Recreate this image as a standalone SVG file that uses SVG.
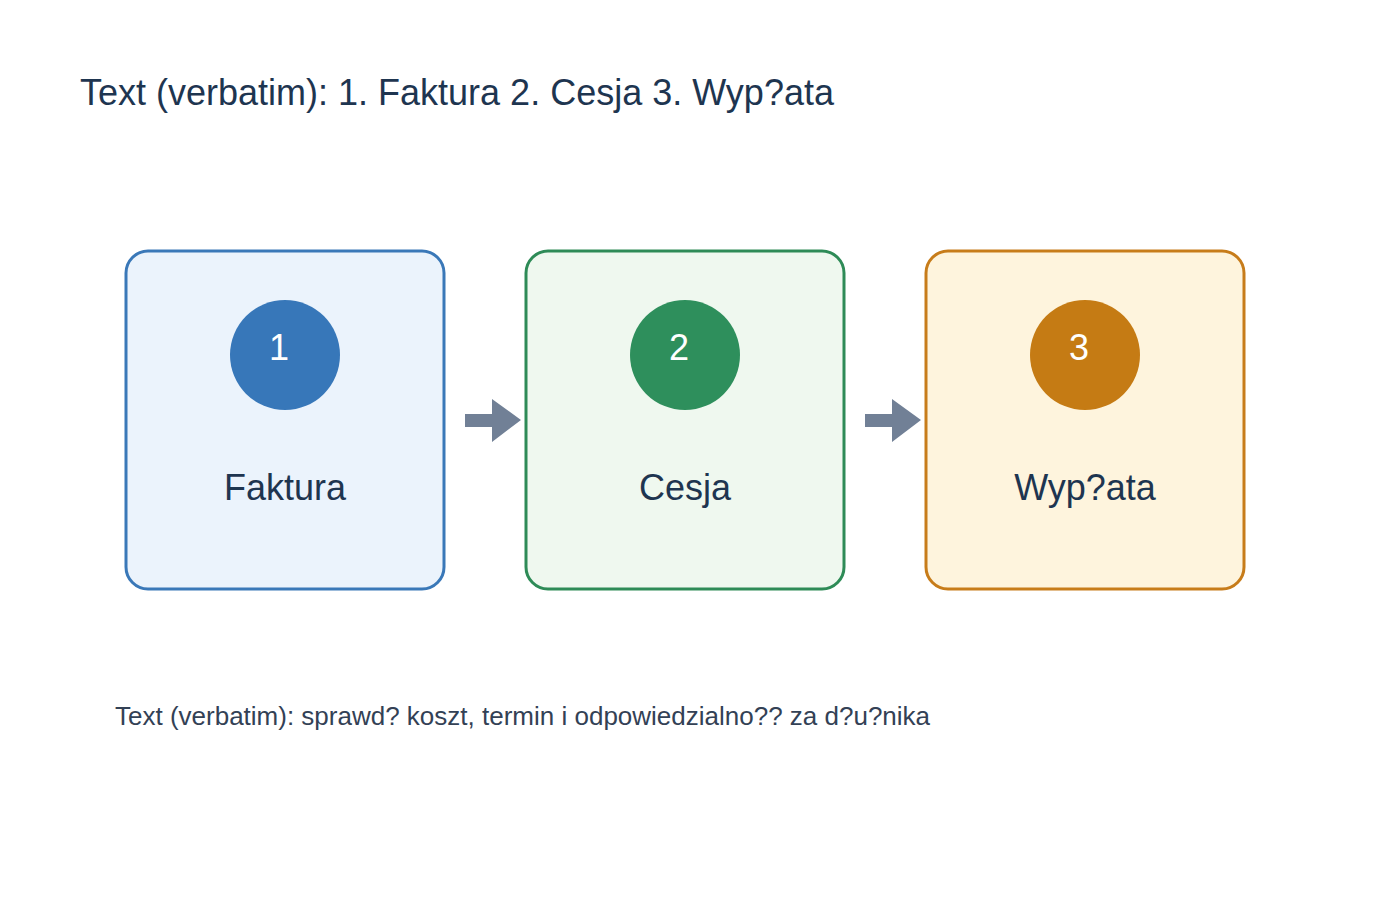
<svg xmlns="http://www.w3.org/2000/svg" width="1400" height="900" viewBox="0 0 1400 900">
<style>
text{font-family:"Liberation Sans",Arial,sans-serif}
.box{stroke-width:3}
.num{fill:#fff;font-size:36px;text-anchor:middle}
.lbl{fill:#1e3550;font-size:36px;text-anchor:middle}
.arr{fill:#718096}
</style>
<rect width="1400" height="900" fill="#fff"/>
<text x="80" y="105" font-size="36" fill="#1e3550">Text (verbatim): 1. Faktura  2. Cesja  3. Wyp?ata</text>
<g id="node1">
<rect class="box" x="126" y="251" width="318" height="338" rx="22" fill="#ebf3fc" stroke="#3a78b8"/>
<circle cx="285" cy="355" r="55" fill="#3777b9"/>
<text class="num" x="279" y="360">1</text>
<text class="lbl" x="285" y="500">Faktura</text>
</g>
<g id="node2">
<rect class="box" x="526" y="251" width="318" height="338" rx="22" fill="#eff8ef" stroke="#2e8b57"/>
<circle cx="685" cy="355" r="55" fill="#2e8f5c"/>
<text class="num" x="679" y="360">2</text>
<text class="lbl" x="685" y="500">Cesja</text>
</g>
<g id="node3">
<rect class="box" x="926" y="251" width="318" height="338" rx="22" fill="#fef4dd" stroke="#c77c1a"/>
<circle cx="1085" cy="355" r="55" fill="#c57b14"/>
<text class="num" x="1079" y="360">3</text>
<text class="lbl" x="1085" y="500">Wyp?ata</text>
</g>
<g id="connectors">
<polygon class="arr" points="465,414 492,414 492,399 521,420 492,442 492,427 465,427"/>
<polygon class="arr" points="865,414 892,414 892,399 921,420 892,442 892,427 865,427"/>
</g>
<text x="115" y="725" font-size="26" fill="#334155">Text (verbatim): sprawd? koszt, termin i odpowiedzialno?? za d?u?nika</text>
</svg>
